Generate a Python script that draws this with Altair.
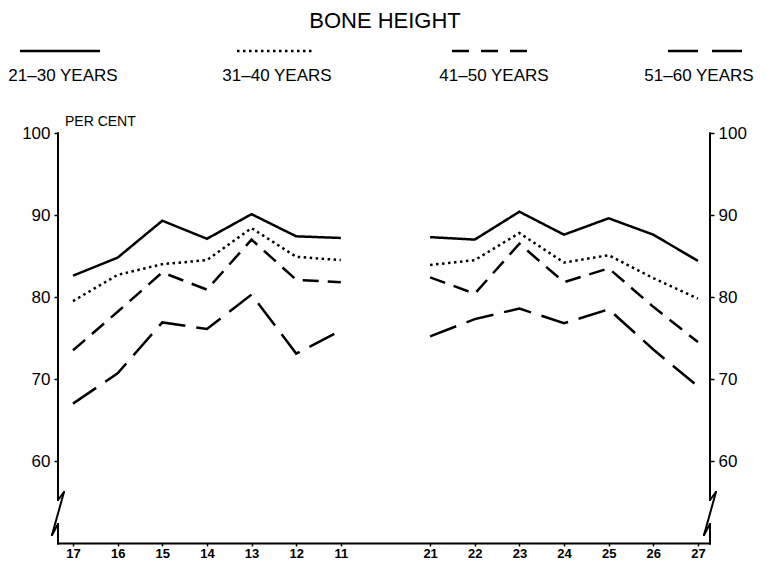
import altair as alt
import pandas as pd

# ---- data ----
teeth_left = ['17', '16', '15', '14', '13', '12', '11']
teeth_right = ['21', '22', '23', '24', '25', '26', '27']
series_names = ['21–30 YEARS', '31–40 YEARS', '41–50 YEARS', '51–60 YEARS']

v21_30_left = [82.6, 84.8, 89.3, 87.1, 90.1, 87.4, 87.2]
v21_30_right = [87.3, 87.0, 90.4, 87.6, 89.6, 87.6, 84.4]
v31_40_left = [79.5, 82.7, 84.0, 84.5, 88.4, 84.9, 84.5]
v31_40_right = [83.9, 84.5, 87.8, 84.2, 85.1, 82.3, 79.8]
v41_50_left = [73.5, 78.2, 83.0, 80.9, 87.0, 82.1, 81.8]
v41_50_right = [82.4, 80.4, 86.5, 81.8, 83.5, 78.8, 74.5]
v51_60_left = [67.0, 70.7, 76.9, 76.1, 80.3, 73.1, 75.9]
v51_60_right = [75.2, 77.3, 78.6, 76.8, 78.5, 73.6, 69.1]

y_ticks = [60, 70, 80, 90, 100]

# ---- build table ----
left_vals = [v21_30_left, v31_40_left, v41_50_left, v51_60_left]
right_vals = [v21_30_right, v31_40_right, v41_50_right, v51_60_right]
rows = []
for name, lv, rv in zip(series_names, left_vals, right_vals):
    for i, (t, v) in enumerate(zip(teeth_left, lv)):
        rows.append(dict(series=name, group='left', pos=i, tooth=t, value=v))
    for i, (t, v) in enumerate(zip(teeth_right, rv)):
        rows.append(dict(series=name, group='right', pos=i + len(teeth_left) + 1, tooth=t, value=v))
df = pd.DataFrame(rows)

all_labels = teeth_left + [''] + teeth_right
positions = [i for i, l in enumerate(all_labels) if l]
label_expr = '[' + ','.join("'%s'" % l for l in all_labels) + '][datum.value]'

W, H = 652, 410
FONT = 'Liberation Sans'
dashes = [[1, 0], [2.5, 3.5], [16, 9], [28, 11]]

xscale = alt.Scale(domain=[-0.336, 14.27], nice=False, zero=False)
yscale = alt.Scale(domain=[50, 100], nice=False, zero=False)

x_axis = alt.Axis(values=positions, labelExpr=label_expr, title=None, grid=False,
                  tickSize=3, tickColor='black', tickWidth=1.5, domainColor='black', domainWidth=2,
                  labelFont=FONT, labelFontSize=13, labelFontWeight='bold',
                  labelColor='black', labelPadding=1)


def y_axis(orient):
    return alt.Axis(orient=orient, values=y_ticks, title=None, domain=False, grid=False,
                    tickSize=4, tickColor='black', tickWidth=1.5, labelFont=FONT,
                    labelFontSize=17, labelColor='black', labelPadding=4)


lines = alt.Chart(df).mark_line(color='black', strokeWidth=2.5, strokeCap='butt').encode(
    x=alt.X('pos:Q', scale=xscale, axis=x_axis),
    y=alt.Y('value:Q', scale=yscale, axis=y_axis('left')),
    strokeDash=alt.StrokeDash('series:N', scale=alt.Scale(domain=series_names, range=dashes), legend=None),
    detail='group:N',
)

right_axis = alt.Chart(df).mark_point(opacity=0).encode(
    x=alt.X('pos:Q', scale=xscale, axis=x_axis),
    y=alt.Y('value:Q', scale=yscale, axis=y_axis('right')),
)

one = alt.Data(values=[{}])
layers = [lines, right_axis]

# axis lines with break symbols (pixel geometry of the frame)
shape = [(0, 0), (0, 367), (6, 359), (-6, 402), (0, 391), (0, 411)]
for base in (0, W):
    for (ax, ay), (bx, by) in zip(shape[:-1], shape[1:]):
        layers.append(alt.Chart(one).mark_rule(color='black', strokeWidth=2, strokeCap='round').encode(
            x=alt.value(base + ax), y=alt.value(ay), x2=alt.value(base + bx), y2=alt.value(by)))

# legend
leg_x1 = [-38, 179, 394, 610]
leg_x2 = [42, 255, 469, 685]
leg_tx = [5, 219, 436, 641]
leg_dash = [[1, 0], [2.5, 3.5], [17, 12], [30, 14]]
for name, x1, x2, tx, d in zip(series_names, leg_x1, leg_x2, leg_tx, leg_dash):
    layers.append(alt.Chart(one).mark_rule(color='black', strokeWidth=2.5, strokeDash=d, strokeCap='butt').encode(
        x=alt.value(x1), x2=alt.value(x2), y=alt.value(-82)))
    layers.append(alt.Chart(one).mark_text(text=name, font=FONT, fontSize=17, color='black',
                                           align='center', baseline='middle').encode(
        x=alt.value(tx), y=alt.value(-57)))

layers.append(alt.Chart(one).mark_text(text='BONE HEIGHT', font=FONT, fontSize=22, color='black',
                                       align='center', baseline='middle').encode(
    x=alt.value(327), y=alt.value(-112)))
layers.append(alt.Chart(one).mark_text(text='PER CENT', font=FONT, fontSize=14, color='black',
                                       align='left', baseline='alphabetic').encode(
    x=alt.value(7), y=alt.value(-7)))

chart = alt.layer(*layers).resolve_scale(y='independent').properties(
    width=W, height=H,
    autosize=alt.AutoSizeParams(type='none'),
    padding={'left': 50, 'top': 125, 'right': 48, 'bottom': 18},
).configure(background='white').configure_view(stroke=None)

chart.save('out.html', embed_options={'renderer': 'svg', 'actions': False})
